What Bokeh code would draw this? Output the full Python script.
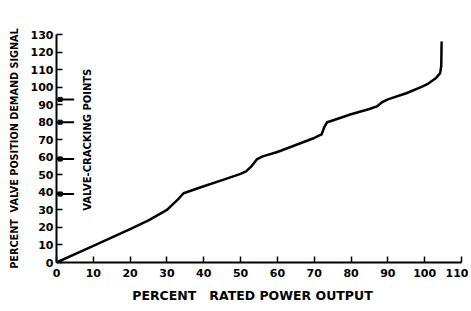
import math
from bokeh.plotting import figure
from bokeh.models import Range1d, FixedTicker, Label
from bokeh.embed import file_html
from bokeh.resources import INLINE

# Data
power_pct = [0, 10, 20, 25, 30, 33, 34.5, 40, 45, 50, 51.5, 53, 54.5, 56, 60, 65, 70, 72, 72.7, 73.5,
             75, 80, 85, 87, 88.5, 90, 95, 99, 101, 103, 104.2, 104.5, 104.6]
demand_pct = [0, 9.5, 19, 24, 30, 36, 39.5, 43.5, 47, 50.5, 52, 55, 59, 60.5, 63, 67, 71, 73, 77, 80,
              81, 84.5, 87.5, 89, 91.5, 93, 96.5, 100, 102, 105, 108, 112, 126]
cracking_points = [39, 59, 80, 93]
x_ticks = list(range(0, 111, 10))
y_ticks = list(range(0, 131, 10))

FONT = "DejaVu Sans"

p = figure(width=468, height=305, output_backend="svg", toolbar_location=None,
           x_range=Range1d(0, 110), y_range=Range1d(0, 130),
           min_border_left=56, min_border_right=7, min_border_top=34, min_border_bottom=38)
p.outline_line_color = None
p.grid.visible = False
p.background_fill_color = "white"

for ax in (p.xaxis[0], p.yaxis[0]):
    ax.axis_line_color = "black"
    ax.axis_line_width = 2
    ax.major_tick_in = 6
    ax.major_tick_out = 0
    ax.major_tick_line_width = 1.5
    ax.minor_tick_line_color = None
    ax.major_label_text_font = FONT
    ax.major_label_text_font_style = "bold"
    ax.major_label_text_font_size = "11px"
    ax.major_label_text_color = "black"
    ax.axis_label_text_font = FONT
    ax.axis_label_text_font_style = "bold"
    ax.axis_label_text_color = "black"

p.xaxis.ticker = FixedTicker(ticks=x_ticks)
p.yaxis.ticker = FixedTicker(ticks=y_ticks)
p.xaxis.major_label_standoff = 6
p.yaxis.major_label_standoff = 3
p.xaxis.axis_label = "PERCENT\u00a0\u00a0\u00a0RATED POWER OUTPUT\u00a0\u00a0\u00a0"
p.xaxis.axis_label_text_font_size = "12.5px"
p.xaxis.axis_label_standoff = 8
p.yaxis.axis_label = "PERCENT\u00a0\u00a0VALVE POSITION DEMAND SIGNAL"
p.yaxis.axis_label_text_font_size = "9.7px"
p.yaxis.axis_label_standoff = 8

# valve cracking point markers
p.segment(x0=[0] * len(cracking_points), y0=cracking_points,
          x1=[4.8] * len(cracking_points), y1=cracking_points,
          line_color="black", line_width=2)
p.scatter(x=[1.0] * len(cracking_points), y=cracking_points, marker="square",
          size=4, color="black")

p.line(power_pct, demand_pct, line_color="black", line_width=2.5, line_join="round")

p.add_layout(Label(x=8.3, y=70, text="VALVE-CRACKING POINTS", angle=math.pi / 2,
                   text_align="center", text_baseline="middle",
                   text_font=FONT, text_font_style="bold", text_font_size="10px",
                   text_color="black"))

open("out.html", "w").write(file_html(p, INLINE))
